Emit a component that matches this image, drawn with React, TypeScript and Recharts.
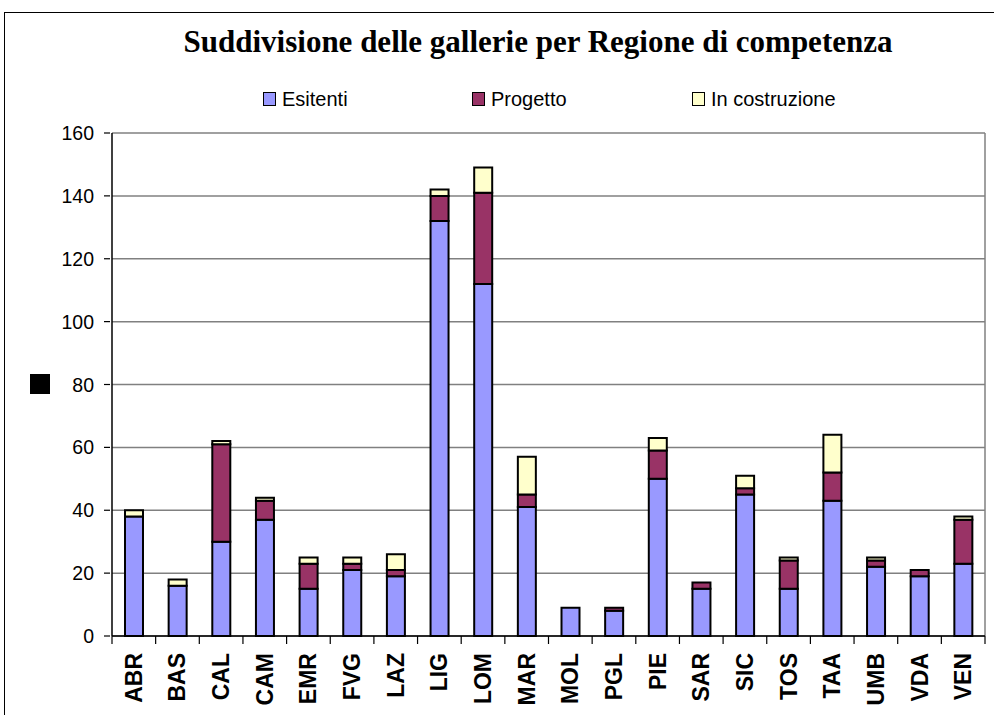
import { BarChart, Bar, XAxis, YAxis, CartesianGrid } from 'recharts';

const regions = ['ABR', 'BAS', 'CAL', 'CAM', 'EMR', 'FVG', 'LAZ', 'LIG', 'LOM', 'MAR', 'MOL', 'PGL', 'PIE', 'SAR', 'SIC', 'TOS', 'TAA', 'UMB', 'VDA', 'VEN'];
const esistenti = [38, 16, 30, 37, 15, 21, 19, 132, 112, 41, 9, 8, 50, 15, 45, 15, 43, 22, 19, 23];
const progetto = [0, 0, 31, 6, 8, 2, 2, 8, 29, 4, 0, 1, 9, 2, 2, 9, 9, 2, 2, 14];
const costruzione = [2, 2, 1, 1, 2, 2, 5, 2, 8, 12, 0, 0, 4, 0, 4, 1, 12, 1, 0, 1];
const yTicks = [0, 20, 40, 60, 80, 100, 120, 140, 160];

const data = regions.map((r, i) => ({
  region: r,
  esistenti: esistenti[i],
  progetto: progetto[i],
  costruzione: costruzione[i],
}));

const W = 994;
const H = 715;
const PLOT_LEFT = 112;
const PLOT_RIGHT = 985;
const BAND = (PLOT_RIGHT - PLOT_LEFT) / regions.length;

const sans = 'Arial, "Liberation Sans", sans-serif';

function XTick({ x, y, payload }: { x: number; y: number; payload: { value: string } }) {
  const left = x - BAND / 2;
  return (
    <g>
      <line x1={left} y1={y - 8} x2={left} y2={y} stroke="#000" strokeWidth={1.2} />
      {payload.value === 'VEN' && (
        <line x1={left + BAND} y1={y - 8} x2={left + BAND} y2={y} stroke="#000" strokeWidth={1.2} />
      )}
      <text
        x={0}
        y={0}
        transform={`translate(${x + 8},${y + 9}) rotate(-90)`}
        textAnchor="end"
        fontFamily={sans}
        fontWeight="bold"
        fontSize={23}
        fill="#000"
      >
        {payload.value}
      </text>
    </g>
  );
}

function YTick({ x, y, payload }: { x: number; y: number; payload: { value: number } }) {
  return (
    <g>
      <line x1={x} y1={y} x2={x + 6} y2={y} stroke="#000" strokeWidth={1.2} />
      <text x={x - 10} y={y + 7} textAnchor="end" fontFamily={sans} fontSize={19.5} fill="#000">
        {payload.value}
      </text>
    </g>
  );
}

const legendItems = [
  { label: 'Esitenti', color: '#9999FF', x: 263 },
  { label: 'Progetto', color: '#993366', x: 472 },
  { label: 'In costruzione', color: '#FFFFCC', x: 692 },
];

export default function App() {
  return (
    <div style={{ position: 'absolute', left: 0, top: 0, width: W, height: H, background: '#fff', overflow: 'hidden' }}>
      <div
        style={{
          position: 'absolute',
          left: 4,
          top: 12,
          width: W + 10,
          height: H + 10,
          border: '1.5px solid #000',
        }}
      />
      <div
        style={{
          position: 'absolute',
          left: 0,
          width: 1076,
          top: 24,
          textAlign: 'center',
          fontFamily: '"Liberation Serif", "Times New Roman", serif',
          fontWeight: 'bold',
          fontSize: 31,
          color: '#000',
        }}
      >
        Suddivisione delle gallerie per Regione di competenza
      </div>
      {legendItems.map((it) => (
        <div key={it.label} style={{ position: 'absolute', left: it.x, top: 88, height: 22, display: 'flex', alignItems: 'center' }}>
          <div style={{ width: 11, height: 12, background: it.color, border: '1.5px solid #000', marginRight: 6 }} />
          <span style={{ fontFamily: sans, fontSize: 20, color: '#000' }}>{it.label}</span>
        </div>
      ))}
      <div style={{ position: 'absolute', left: 30, top: 374, width: 20, height: 20, background: '#000' }} />
      <div style={{ position: 'absolute', left: 0, top: 0 }}>
        <BarChart
          width={W}
          height={H}
          data={data}
          margin={{ top: 133, right: W - PLOT_RIGHT, bottom: 0, left: 52 }}
          barSize={18}
        >
          <CartesianGrid
            vertical={true}
            horizontal={true}
            stroke="#808080"
            strokeWidth={1.5}
            verticalPoints={[PLOT_RIGHT]}
          />
          <XAxis
            dataKey="region"
            height={79}
            interval={0}
            tickLine={false}
            axisLine={{ stroke: '#000', strokeWidth: 1.5 }}
            tick={XTick}
          />
          <YAxis
            width={60}
            domain={[0, 160]}
            ticks={yTicks}
            interval={0}
            tickLine={false}
            axisLine={{ stroke: '#000', strokeWidth: 1.5 }}
            tick={YTick}
          />
          <Bar dataKey="esistenti" stackId="a" fill="#9999FF" stroke="#000" strokeWidth={2} isAnimationActive={false} />
          <Bar dataKey="progetto" stackId="a" fill="#993366" stroke="#000" strokeWidth={2} isAnimationActive={false} />
          <Bar dataKey="costruzione" stackId="a" fill="#FFFFCC" stroke="#000" strokeWidth={2} isAnimationActive={false} />
        </BarChart>
      </div>
    </div>
  );
}
